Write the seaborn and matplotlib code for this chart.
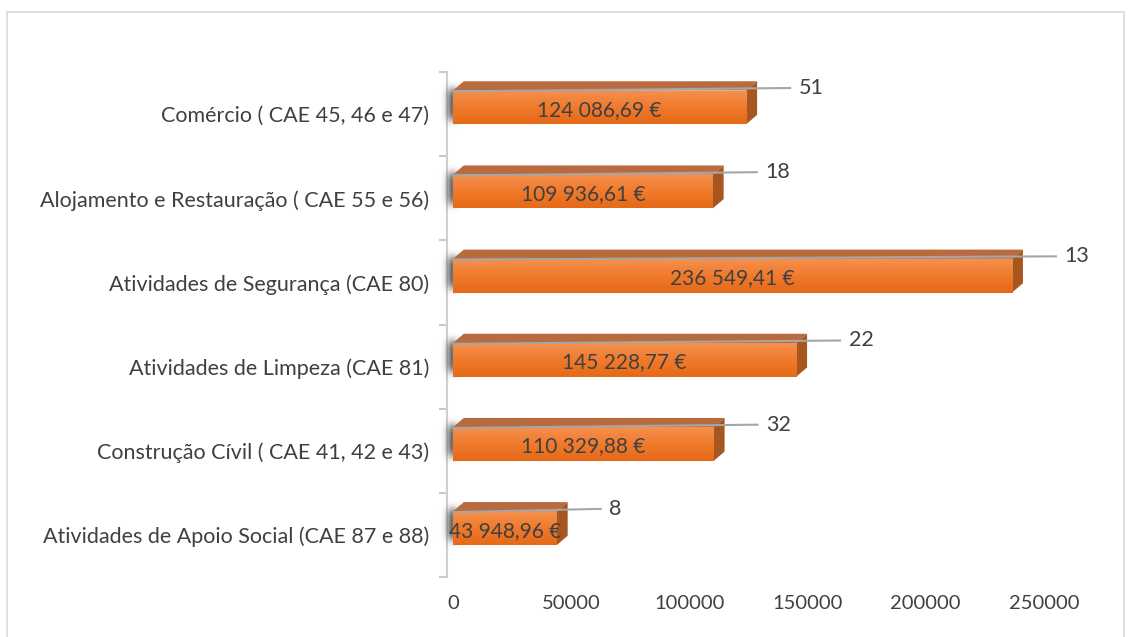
import numpy as np
import matplotlib
matplotlib.use("Agg")
import matplotlib.pyplot as plt
import seaborn as sns
from matplotlib.patches import Polygon, Rectangle

categorias = [
    "Comércio ( CAE 45, 46 e 47)",
    "Alojamento e Restauração ( CAE 55 e 56)",
    "Atividades de Segurança (CAE 80)",
    "Atividades de Limpeza (CAE 81)",
    "Construção Cívil ( CAE 41, 42 e 43)",
    "Atividades de Apoio Social (CAE 87 e 88)",
]
valores = [124086.69, 109936.61, 236549.41, 145228.77, 110329.88, 43948.96]
contagens = [51, 18, 13, 22, 32, 8]
ticks_x = [0, 50000, 100000, 150000, 200000, 250000]

sns.set_theme(style="white")
plt.rcParams["font.family"] = ["Lato", "DejaVu Sans"]
cor_texto = "#404040"

fig = plt.figure(figsize=(11.31, 6.37), dpi=100)
ax = fig.add_axes([447 / 1131, 1 - 577 / 637, (1102 - 447) / 1131, (577 - 72) / 637])

# barras frontais
sns.barplot(x=valores, y=categorias, orient="h", width=0.40, color="#EE7B30",
            ax=ax, zorder=3, edgecolor="none")

ax.set_xlim(-2500, 274600)
ax.set_ylim(len(categorias) - 0.5, -0.5)

dx = 4600      # profundidade 3D (unidades x)
dy = 0.11      # profundidade 3D (unidades y)
sombra_off = 0.08

grad = np.linspace(0, 1, 64).reshape(-1, 1)
cmap_frente = matplotlib.colors.LinearSegmentedColormap.from_list(
    "frente", ["#F5904E", "#F07A2C", "#E56A18"])

# perfil da sombra (gaussiana 2D)
gx = np.linspace(-1, 1, 60)
gy = np.linspace(-1, 1, 40)
perfil = np.outer(np.exp(-(gy / 0.6) ** 4), np.exp(-(gx / 0.45) ** 2)) * 0.8

for i, (barra, v, n) in enumerate(zip(ax.patches, valores, contagens)):
    barra.set_y(barra.get_y() - sombra_off)
    topo = barra.get_y()
    base = topo + barra.get_height()

    # gradiente da face frontal
    img = ax.imshow(grad, cmap=cmap_frente, aspect="auto",
                    extent=[0, v, base, topo], zorder=3.5)
    img.set_clip_path(barra)

    # face superior
    ax.add_patch(Polygon([(0, topo), (v, topo), (v + dx, topo - dy), (dx, topo - dy)],
                         closed=True, facecolor="#B96B40", edgecolor="none", zorder=3))
    # face lateral
    ax.add_patch(Polygon([(v, topo), (v + dx, topo - dy), (v + dx, base - dy), (v, base)],
                         closed=True, facecolor="#A8561F", edgecolor="none", zorder=3))

    # sombra esbatida junto ao eixo
    rgba = np.zeros(perfil.shape + (4,))
    rgba[..., :3] = 0.28
    rgba[..., 3] = perfil
    ax.imshow(rgba, aspect="auto", extent=[-6000, 5000, base + 0.1, topo - dy - 0.06],
              zorder=2, interpolation="bilinear", clip_on=False)

    # rótulo do valor
    txt = f"{v:,.2f}".replace(",", " ").replace(".", ",") + " €"
    ax.text(v / 2, (topo + base) / 2 + 0.03, txt, ha="center", va="center",
            fontsize=15, color=cor_texto, zorder=5)

    # linha de chamada e contagem
    fim = v + 19000
    ax.plot([0, fim], [topo + 0.01, topo - 0.03], color="#A6A6A6", lw=1.5,
            zorder=4, solid_capstyle="butt")
    ax.text(fim + 3200, topo - 0.03, str(n), ha="left", va="center",
            fontsize=15.5, color=cor_texto, zorder=5)

ax.set_xticks(ticks_x)
ax.set_xticklabels([str(t) for t in ticks_x])
ax.set_xlabel("")
ax.set_ylabel("")

ax.set_yticks(np.arange(len(categorias) + 1) - 0.5, minor=True)
ax.tick_params(axis="y", which="major", length=0, pad=13, labelsize=15.5, labelcolor=cor_texto)
ax.tick_params(axis="y", which="minor", length=6, color="#BFBFBF", width=1.2, left=True)
ax.tick_params(axis="x", length=0, pad=13, labelsize=14.5, labelcolor=cor_texto)

for lado in ["top", "right", "bottom"]:
    ax.spines[lado].set_visible(False)
ax.spines["left"].set_color("#D0D0D0")
ax.spines["left"].set_linewidth(1.5)
ax.spines["left"].set_zorder(1)
ax.grid(False)

# moldura da figura
fig.patches.append(Rectangle((7 / 1131, -0.02), (1124 - 7) / 1131, 1 - 12 / 637 + 0.02,
                             transform=fig.transFigure, fill=False,
                             edgecolor="#D9D9D9", lw=1.2, zorder=0))

fig.savefig("out.png", dpi=100)
